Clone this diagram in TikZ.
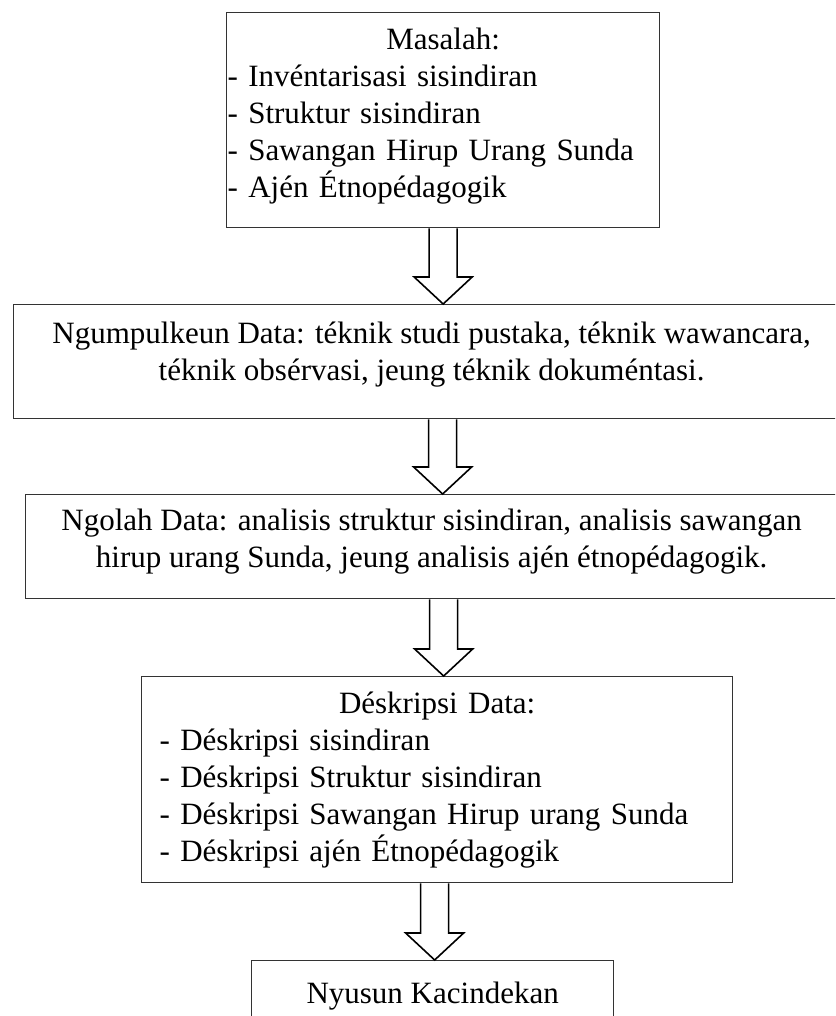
\documentclass[tikz,border=0pt]{standalone}
\usepackage{fontspec}
\setmainfont{Liberation Serif}
\usetikzlibrary{calc}
\tikzset{
  flowbox/.style={draw=black!80, line width=1.3pt, anchor=north west, inner ysep=0pt,
    font=\fontsize{31}{37}\selectfont},
  blockarrow/.style={draw=black, line width=1.6pt, line join=miter}
}
\newcommand{\flowarrow}[3][0pt]{%
  \draw[blockarrow] let \p1=([xshift=#1]#2.south), \p2=(#3.north) in
    (\x1-14pt,\y1) -- (\x1-14pt,\y2+27pt) -- (\x1-29pt,\y2+27pt) -- (\x1,\y2)
    -- (\x1+29pt,\y2+27pt) -- (\x1+14pt,\y2+27pt) -- (\x1+14pt,\y1);}
\begin{document}
\begin{tikzpicture}[x=1pt,y=1pt]
                    \useasboundingbox (0,0) rectangle (835,-1016);
                    \clip (0,0) rectangle (835,-1016);
                    \node[flowbox, text width=431pt, inner xsep=1pt, align=left, minimum width=433pt, minimum height=215pt] (masalah) at (226,-12)
                        {\makebox[\hsize]{Masalah:}\\- Invéntarisasi sisindiran\\- Struktur sisindiran\\- Sawangan Hirup Urang Sunda\\- Ajén Étnopédagogik\rule[-14pt]{0pt}{0pt}};
                    \node[flowbox, align=center, minimum width=836pt, minimum height=114pt] (ngumpul) at (13,-304)
                        {Ngumpulkeun Data: téknik studi pustaka, téknik wawancara,\\téknik obsérvasi, jeung téknik dokuméntasi.\rule[-21pt]{0pt}{0pt}};
                    \node[flowbox, align=center, minimum width=812pt, minimum height=104pt] (ngolah) at (25,-494)
                        {Ngolah Data: analisis struktur sisindiran, analisis sawangan\\hirup urang Sunda, jeung analisis ajén étnopédagogik.\rule[-17pt]{0pt}{0pt}};
                    \node[flowbox, text width=555pt, inner xsep=18pt, align=left, minimum width=591pt, minimum height=206pt] (deskripsi) at (141,-676)
                        {\makebox[\hsize]{Déskripsi Data:}\\- Déskripsi sisindiran\\- Déskripsi Struktur sisindiran\\- Déskripsi Sawangan Hirup urang Sunda\\- Déskripsi ajén Étnopédagogik};
                    \node[flowbox, align=center, minimum width=362pt, minimum height=71pt] (nyusun) at (251,-960) {Nyusun Kacindekan};
                    \flowarrow{masalah}{ngumpul}
                    \flowarrow[11pt]{ngumpul}{ngolah}
                    \flowarrow[12pt]{ngolah}{deskripsi}
                    \flowarrow[-2.5pt]{deskripsi}{nyusun}
                \end{tikzpicture}
\end{document}
